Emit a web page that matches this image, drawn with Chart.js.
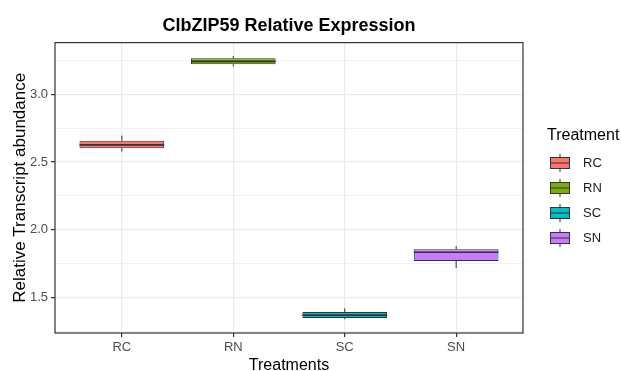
<!DOCTYPE html>
<html>
<head>
<meta charset="utf-8">
<script src="https://cdn.jsdelivr.net/npm/chart.js@4.4.0/dist/chart.umd.min.js"></script>
<style>
html, body { margin: 0; padding: 0; background: #fff; }
</style>
</head>
<body>
<canvas id="chart-box" width="621" height="371"></canvas>
<script>
// values
const treatments = ['RC', 'RN', 'SC', 'SN'];
const whiskerLow = [2.577, 3.204, 1.341, 1.719];
const boxLow = [2.602, 3.220, 1.350, 1.771];
const medians = [2.626, 3.242, 1.372, 1.835];
const boxHigh = [2.656, 3.264, 1.395, 1.857];
const whiskerHigh = [2.695, 3.282, 1.422, 1.881];
const yMajorTicks = [1.5, 2.0, 2.5, 3.0];
const yMinorTicks = [1.25, 1.75, 2.25, 2.75, 3.25];
const fillColors = ['#F8766D', '#7CAE00', '#00BFC4', '#C77CFF'];

Chart.defaults.font.family = '"Liberation Sans", Arial, sans-serif';

const isMajor = v => yMajorTicks.some(m => Math.abs(m - v) < 1e-6);

// whiskers + median line on top of the floating bars
const boxExtras = {
    id: 'boxExtras',
    afterDatasetsDraw(chart) {
        const c = chart.ctx;
        const ys = chart.scales.y;
        const meta = chart.getDatasetMeta(0);
        c.save();
        c.strokeStyle = '#333333';
        c.lineWidth = 1;
        meta.data.forEach((bar, i) => {
            const half = bar.width / 2;
            c.beginPath();
            c.moveTo(bar.x, ys.getPixelForValue(boxHigh[i]));
            c.lineTo(bar.x, ys.getPixelForValue(whiskerHigh[i]));
            c.moveTo(bar.x, ys.getPixelForValue(boxLow[i]));
            c.lineTo(bar.x, ys.getPixelForValue(whiskerLow[i]));
            c.stroke();
            c.lineWidth = 1.6;
            c.beginPath();
            const my = ys.getPixelForValue(medians[i]);
            c.moveTo(bar.x - half, my);
            c.lineTo(bar.x + half, my);
            c.stroke();
            c.lineWidth = 1;
        });
        c.restore();
    },
    afterDraw(chart) {
        const c = chart.ctx;
        const a = chart.chartArea;
        c.save();
        // panel border
        c.strokeStyle = '#333333';
        c.lineWidth = 1.2;
        c.strokeRect(a.left, a.top, a.right - a.left, a.bottom - a.top);
        // legend
        c.fillStyle = '#000';
        c.font = '16px "Liberation Sans", Arial, sans-serif';
        c.textBaseline = 'middle';
        c.fillText('Treatment', 547, 136);
        treatments.forEach((t, i) => {
            const cy = 163 + i * 25;
            const x0 = 550, w = 20, h = 12;
            c.strokeStyle = '#333333';
            c.lineWidth = 1;
            c.beginPath();
            c.moveTo(x0 + w / 2, cy - 9);
            c.lineTo(x0 + w / 2, cy + 9);
            c.stroke();
            c.fillStyle = fillColors[i];
            c.fillRect(x0, cy - h / 2, w, h);
            c.strokeRect(x0 + 0.5, cy - h / 2 + 0.5, w - 1, h - 1);
            c.beginPath();
            c.moveTo(x0, cy);
            c.lineTo(x0 + w, cy);
            c.stroke();
            c.fillStyle = '#1a1a1a';
            c.font = '13px "Liberation Sans", Arial, sans-serif';
            c.fillText(t, 583, cy);
        });
        c.restore();
    }
};

const ctx = document.getElementById('chart-box').getContext('2d');
new Chart(ctx, {
    type: 'bar',
    data: {
        datasets: [{
            data: treatments.map((t, i) => ({ x: i + 1, y: [boxLow[i], boxHigh[i]] })),
            backgroundColor: fillColors,
            borderColor: '#333333',
            borderWidth: 1,
            borderSkipped: false,
            categoryPercentage: 1,
            barPercentage: 0.76
        }]
    },
    options: {
        responsive: false,
        animation: false,
        layout: { padding: { left: 0, right: 98, top: 0, bottom: 0 } },
        plugins: {
            legend: { display: false },
            tooltip: { enabled: false },
            title: {
                display: true,
                text: 'ClbZIP59 Relative Expression',
                fullSize: false,
                color: '#000',
                font: { size: 18, weight: 'bold' },
                padding: { top: 15, bottom: 6 }
            }
        },
        scales: {
            x: {
                type: 'linear',
                min: 0.4,
                max: 4.6,
                offset: false,
                afterBuildTicks: s => { s.ticks = treatments.map((t, i) => ({ value: i + 1 })); },
                afterFit: s => { s.height = 38; },
                ticks: {
                    callback: v => treatments[Math.round(v) - 1],
                    color: '#4D4D4D',
                    font: { size: 13 },
                    padding: 3,
                    autoSkip: false,
                    maxRotation: 0
                },
                grid: { color: '#EBEBEB', lineWidth: 1.2, offset: false, tickLength: 4, tickColor: '#333333' },
                border: { display: false },
                title: { display: true, text: 'Treatments', color: '#000', font: { size: 16 }, padding: { top: 0, bottom: -4 } }
            },
            y: {
                type: 'linear',
                min: 1.24,
                max: 3.38,
                afterBuildTicks: s => {
                    s.ticks = yMinorTicks.concat(yMajorTicks).sort((a, b) => a - b).map(v => ({ value: v }));
                },
                afterFit: s => { s.width = 55; },
                ticks: {
                    callback: v => isMajor(v) ? v.toFixed(1) : '',
                    color: '#4D4D4D',
                    font: { size: 13 },
                    padding: 3
                },
                grid: {
                    color: '#EBEBEB',
                    lineWidth: c => (c.tick && isMajor(c.tick.value)) ? 1.2 : 0.7,
                    tickLength: 4,
                    tickColor: c => (c.tick && isMajor(c.tick.value)) ? '#333333' : 'rgba(0,0,0,0)'
                },
                border: { display: false },
                title: { display: true, text: 'Relative Transcript abundance', color: '#000', font: { size: 17 }, padding: { top: 10, bottom: 0 } }
            }
        }
    },
    plugins: [boxExtras]
});
</script>
</body>
</html>
